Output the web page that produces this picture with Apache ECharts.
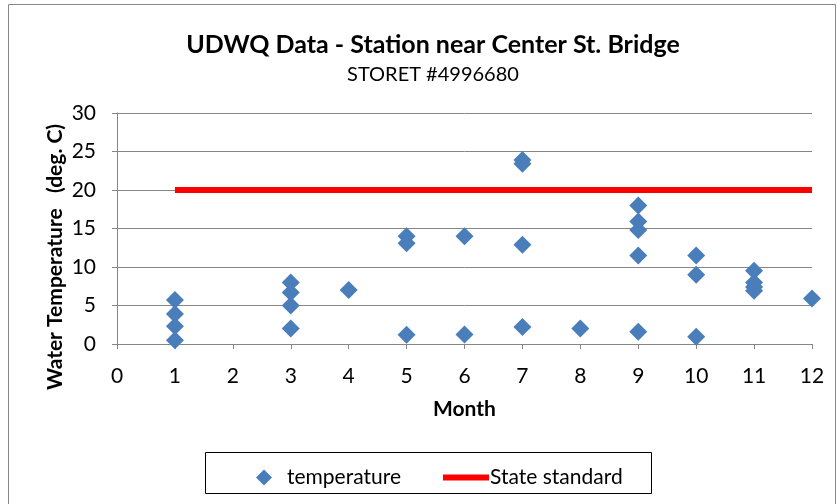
<!DOCTYPE html>
<html><head><meta charset="utf-8">
<script src="https://cdn.jsdelivr.net/npm/echarts@6/dist/echarts.min.js"></script>
<style>html,body{margin:0;padding:0;background:#fff}#c{width:838px;height:504px}</style>
</head><body><div id="c"></div>
<script>
const months = [1,1,1,1,3,3,3,3,4,5,5,5,6,6,7,7,7,7,8,9,9,9,9,9,10,10,10,11,11,11,11,12];
const temperature = [5.7,3.9,2.3,0.5,8.0,6.7,5.0,2.0,7.0,14.0,13.1,1.2,14.0,1.25,23.9,23.4,12.9,2.2,2.0,18.0,15.9,14.8,11.5,1.6,11.5,9.0,0.95,9.5,8.0,7.4,6.9,5.9];
const standardMonths = [1,12];
const standardValues = [20,20];
const xTicks = [0,12,1];
const yTicks = [0,30,5];
const yTitle = 'Water Temperature   (deg. C)';
const FONT = 'Lato, "Liberation Sans", sans-serif';

const chart = echarts.init(document.getElementById('c'));
chart.setOption({
  animation:false,
  backgroundColor:'#fff',
  title:[
    {text:'UDWQ Data - Station near Center St. Bridge', left:428, textAlign:'center', top:27, textStyle:{fontFamily:FONT, fontSize:25, fontWeight:'bold', color:'#000'}},
    {text:'STORET #4996680', left:428, textAlign:'center', top:60, textStyle:{fontFamily:FONT, fontSize:20, fontWeight:'normal', color:'#000'}}
  ],
  graphic:[
    {type:'rect', shape:{x:8.5,y:4.5,width:827,height:520}, style:{fill:'none', stroke:'#888', lineWidth:1}, silent:true},
    {type:'rect', shape:{x:205.5,y:452.5,width:446,height:41}, style:{fill:'none', stroke:'#000', lineWidth:1}, silent:true},
    {type:'text', x:55, y:257, rotation:Math.PI/2, silent:true,
     style:{text:yTitle, font:'bold 21px '+FONT, fill:'#000', textAlign:'center', textVerticalAlign:'middle'}}
  ],
  legend:[
    {data:[{name:'temperature', icon:'diamond'}], left:251, top:462, itemWidth:16, itemHeight:16, itemGap:0, textStyle:{fontFamily:FONT, fontSize:21, color:'#000', padding:[0,0,0,10]}},
    {data:[{name:'State standard', icon:'rect'}], left:438, top:462, itemWidth:46, itemHeight:6, textStyle:{fontFamily:FONT, fontSize:21, color:'#000', padding:[0,0,0,-4]}}
  ],
  grid:{left:117, right:26, top:113, bottom:160},
  xAxis:{type:'value', min:xTicks[0], max:xTicks[1], interval:xTicks[2],
    name:'Month', nameLocation:'middle', nameGap:55,
    nameTextStyle:{fontFamily:FONT, fontSize:21, fontWeight:'bold', color:'#000'},
    axisLine:{show:true, lineStyle:{color:'#868686'}}, axisTick:{show:true, length:5, lineStyle:{color:'#868686'}},
    axisLabel:{fontFamily:FONT, fontSize:21, color:'#000', margin:22},
    splitLine:{show:false}},
  yAxis:{type:'value', min:yTicks[0], max:yTicks[1], interval:yTicks[2],
    axisLine:{show:true, lineStyle:{color:'#868686'}}, axisTick:{show:true, length:5, lineStyle:{color:'#868686'}},
    axisLabel:{fontFamily:FONT, fontSize:21, color:'#000', margin:21},
    splitLine:{show:true, lineStyle:{color:'#868686', width:1}}},
  series:[
    {name:'temperature', type:'scatter', symbol:'diamond', symbolSize:18,
     itemStyle:{color:'#4a7ebb', opacity:1}, data:months.map((m,i)=>[m,temperature[i]])},
    {name:'State standard', type:'line', symbol:'none', lineStyle:{color:'#ff0000', width:6},
     itemStyle:{color:'#ff0000'}, data:standardMonths.map((m,i)=>[m,standardValues[i]])}
  ]
});
</script></body></html>
